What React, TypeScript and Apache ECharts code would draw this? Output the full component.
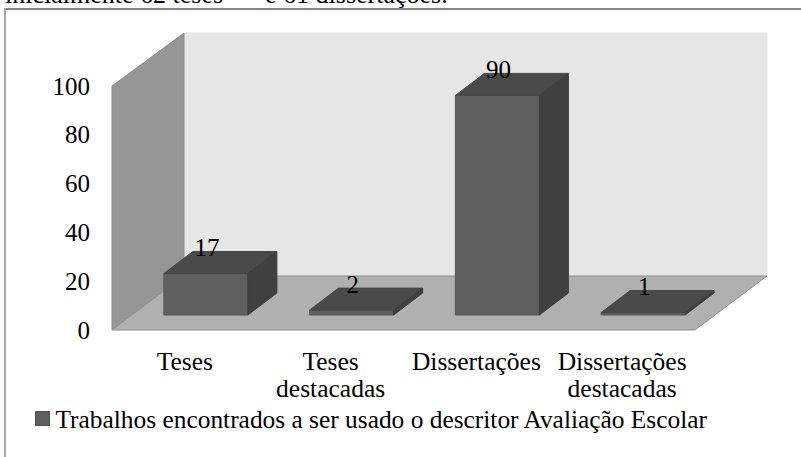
import React, { useEffect, useRef } from "react";
import * as echarts from "echarts";

const categories = ["Teses", "Teses\ndestacadas", "Dissertações", "Dissertações\ndestacadas"];
const values = [17, 2, 90, 1];
const yTicks = [0, 20, 40, 60, 80, 100];
const seriesName = "Trabalhos encontrados a ser usado o descritor Avaliação Escolar";
const headerLeft = "inicialmente 62 teses";
const headerRight = "e 61 dissertações.";
const FONT = '"Liberation Serif", "Times New Roman", serif';

export default function App() {
  const ref = useRef<HTMLDivElement>(null);
  useEffect(() => {
    document.body.style.margin = "0";
    const chart = echarts.init(ref.current!, undefined, { renderer: "svg" });
    const depthX = 72, depthY = 54;
    const barOffX = 21, barOffY = 15, barDepthX = 29, barDepthY = 22, barW = 84;
    const poly = (points: number[][], fill: string, stroke?: string) => ({
      type: "polygon",
      shape: { points },
      style: { fill, stroke: stroke ?? fill, lineWidth: 1 },
    });
    chart.setOption({
      animation: false,
      backgroundColor: "#fff",
      graphic: [
        { type: "line", shape: { x1: 5, y1: 9, x2: 801, y2: 9 }, style: { stroke: "#868686", lineWidth: 2 }, z: 0 },
        { type: "line", shape: { x1: 5, y1: 8, x2: 5, y2: 457 }, style: { stroke: "#a8a8a8", lineWidth: 2 }, z: 0 },
        { type: "text", x: 5, y: -19, style: { text: headerLeft, font: `26px ${FONT}`, fill: "#000" }, z: 10 },
        { type: "text", x: 265, y: -19, style: { text: headerRight, font: `26px ${FONT}`, fill: "#000" }, z: 10 },
      ],
      grid: { left: 112, right: 801 - 695, top: 86, bottom: 457 - 330 },
      legend: {
        show: true,
        left: 30,
        top: 401,
        icon: "rect",
        itemWidth: 14,
        itemHeight: 14,
        itemGap: 0,
        textStyle: { fontFamily: FONT, fontSize: 25.4, color: "#000", padding: [0, 0, 0, 1] },
        data: [{ name: seriesName, itemStyle: { color: "#5f5f5f", borderColor: "#4c4c4c", borderWidth: 1 } }],
      },
      xAxis: {
        type: "category",
        data: categories,
        axisLine: { show: false },
        axisTick: { show: false },
        axisLabel: { fontFamily: FONT, fontSize: 25.5, color: "#000", margin: 18, lineHeight: 27, interval: 0 },
      },
      yAxis: {
        type: "value",
        min: 0,
        max: 100,
        interval: yTicks[1] - yTicks[0],
        axisLine: { show: false },
        axisTick: { show: false },
        splitLine: { show: false },
        axisLabel: { fontFamily: FONT, fontSize: 25, color: "#000", margin: 22 },
      },
      series: [
        {
          type: "custom",
          name: "walls",
          silent: true,
          z: 1,
          data: [[0, 0]],
          encode: { x: 0, y: 1 },
          renderItem: (_p: any, api: any) => {
            const [x0, y0] = api.coord([0, 0]);
            const y1 = api.coord([0, 100])[1];
            const bandW = api.size([1, 0])[0];
            const x1 = x0 - bandW / 2 + bandW * 4;
            const l = x0 - bandW / 2;
            return {
              type: "group",
              children: [
                poly([[l + depthX, y1 - depthY + 1], [x1 + depthX, y1 - depthY + 1], [x1 + depthX, y0 - depthY], [l + depthX, y0 - depthY]], "#e6e6e6"),
                poly([[l, y1], [l + depthX, y1 - depthY + 1], [l + depthX, y0 - depthY], [l, y0]], "#969696", "#8c8c8c"),
                poly([[l, y0], [x1, y0], [x1 + depthX, y0 - depthY], [l + depthX, y0 - depthY]], "#b0b0b0", "#8f8f8f"),
              ],
            };
          },
        },
        {
          type: "custom",
          name: seriesName,
          z: 2,
          data: values.map((v, i) => [i, v]),
          encode: { x: 0, y: 1 },
          itemStyle: { color: "#5f5f5f" },
          renderItem: (_p: any, api: any) => {
            const i = api.value(0), v = api.value(1);
            const [cx, y0] = api.coord([i, 0]);
            const [, yt] = api.coord([i, v]);
            const x = cx + barOffX - barW / 2;
            const r = x + barW;
            const b = y0 - barOffY;
            const t = yt - barOffY;
            return {
              type: "group",
              children: [
                poly([[x, t], [r, t], [r, b], [x, b]], "#5f5f5f", "#555"),
                poly([[x, t], [x + barDepthX, t - barDepthY], [r + barDepthX, t - barDepthY], [r, t]], "#4a4a4a", "#474747"),
                poly([[r, t], [r + barDepthX, t - barDepthY], [r + barDepthX, b - barDepthY], [r, b]], "#404040", "#3c3c3c"),
                {
                  type: "text",
                  x: cx + barOffX + 1,
                  y: t - barDepthY - 4,
                  style: { text: String(v), font: `25px ${FONT}`, fill: "#000", align: "center", verticalAlign: "middle" },
                },
              ],
            };
          },
        },
      ],
    });
    return () => chart.dispose();
  }, []);
  return <div ref={ref} style={{ width: 801, height: 457 }} />;
}
